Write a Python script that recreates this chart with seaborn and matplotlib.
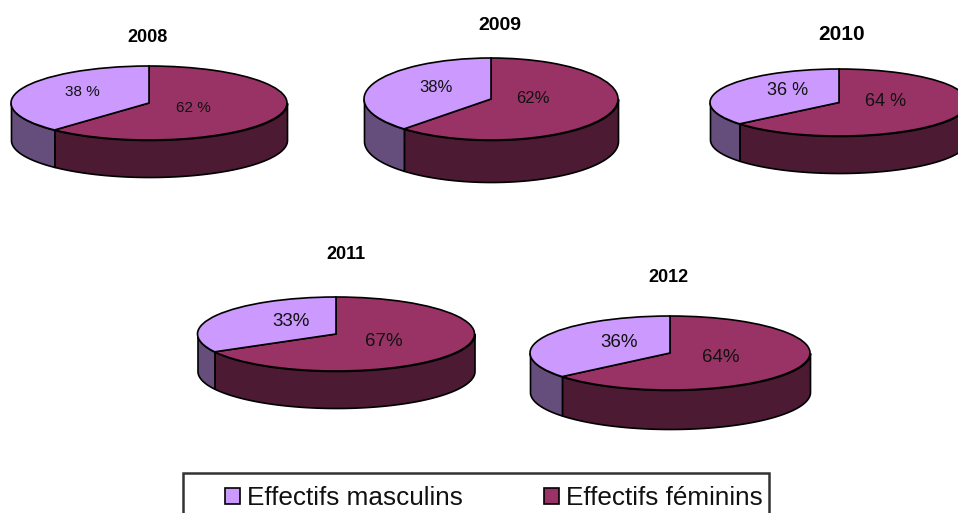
import numpy as np
import seaborn as sns
import matplotlib.pyplot as plt
from matplotlib.patches import Patch, Rectangle

W, H = 958, 513

years = ["2008", "2009", "2010", "2011", "2012"]
masculins = [38, 38, 36, 33, 36]
feminins = [62, 62, 64, 67, 64]
labels_m = ["38 %", "38%", "36 %", "33%", "36%"]
labels_f = ["62 %", "62%", "64 %", "67%", "64%"]
series_names = ["Effectifs masculins", "Effectifs féminins"]

# layout in pixels: centre x, centre y, radius x, radius y, depth
boxes = [(149, 103, 138, 37, 37), (491, 99, 127, 41, 42), (839, 102.5, 129, 33.5, 37),
         (336, 334, 138.5, 37, 37), (670, 353, 140, 37, 39)]
title_pos = [(147, 38, 13), (500, 26, 14), (842, 35, 15), (346, 255, 13), (668, 277, 13)]
label_m_pos = [(82, 92.5, 11), (436, 87.5, 12), (788, 90.5, 13), (291, 321.5, 13.5), (619, 342.5, 13.5)]
label_f_pos = [(193, 108.5, 11), (533, 98.5, 12), (886, 101.5, 13), (384, 341.5, 13.5), (721, 357.5, 13.5)]

sns.set_theme(style="white")
plt.rcParams["font.family"] = ["Liberation Sans", "DejaVu Sans"]

top_m, top_f = sns.color_palette(["#CC99FF", "#993366"])
side_m, side_f = sns.color_palette(["#664E7C", "#4C1B33"])

fig = plt.figure(figsize=(W / 100, H / 100), dpi=100, facecolor="white")


def draw_pie(box, m, f):
    cx, cy, rx, ry, depth = box
    ax = fig.add_axes([(cx - rx) / W, 1 - (cy + ry + depth) / H, 2 * rx / W, (2 * ry + depth) / H])
    d = depth / ry
    # side wall, front half only
    split = np.radians(90 - 360 * f / (m + f)) + 2 * np.pi
    for t0, t1, c in [(np.pi, split, side_m), (split, 2 * np.pi, side_f)]:
        t = np.linspace(t0, t1, 80)
        ax.fill_between(np.cos(t), np.sin(t), np.sin(t) - d, color=c, ec="black", lw=1.2,
                        clip_on=False, zorder=1)
    ax.pie([f, m], colors=[top_f, top_m], startangle=90, counterclock=False, radius=1,
           wedgeprops=dict(edgecolor="black", linewidth=1.2, zorder=2))
    for w in ax.patches:
        w.set_clip_on(False)
    ax.set_aspect("auto")
    ax.set_xlim(-1, 1)
    ax.set_ylim(-1 - d, 1)
    ax.axis("off")


for i in range(len(years)):
    draw_pie(boxes[i], masculins[i], feminins[i])
    x, y, s = title_pos[i]
    fig.text(x / W, 1 - y / H, years[i], fontsize=s, fontweight="bold", ha="center", va="center", color="black")
    x, y, s = label_m_pos[i]
    fig.text(x / W, 1 - y / H, labels_m[i], fontsize=s, ha="center", va="center", color="#111111", zorder=5)
    x, y, s = label_f_pos[i]
    fig.text(x / W, 1 - y / H, labels_f[i], fontsize=s, ha="center", va="center", color="#111111", zorder=5)

# legend frame runs off the bottom of the picture
fig.add_artist(Rectangle((183 / W, -0.05), 586 / W, 0.05 + 1 - 473 / H, transform=fig.transFigure,
                         facecolor="white", edgecolor="#333333", lw=1.8))
handles = [Patch(facecolor=top_m, edgecolor="black", lw=1.2, label=series_names[0]),
           Patch(facecolor=top_f, edgecolor="black", lw=1.2, label=series_names[1])]
leg = fig.legend(handles=handles, ncol=2, loc="upper left", bbox_to_anchor=(225 / W, 1 - 486 / H),
                 fontsize=18.8, frameon=False, labelcolor="#111111",
                 handlelength=0.57, handleheight=0.57, handletextpad=0.27, columnspacing=3.12,
                 borderaxespad=0, borderpad=0, labelspacing=0)

fig.savefig("out.png", dpi=100)
